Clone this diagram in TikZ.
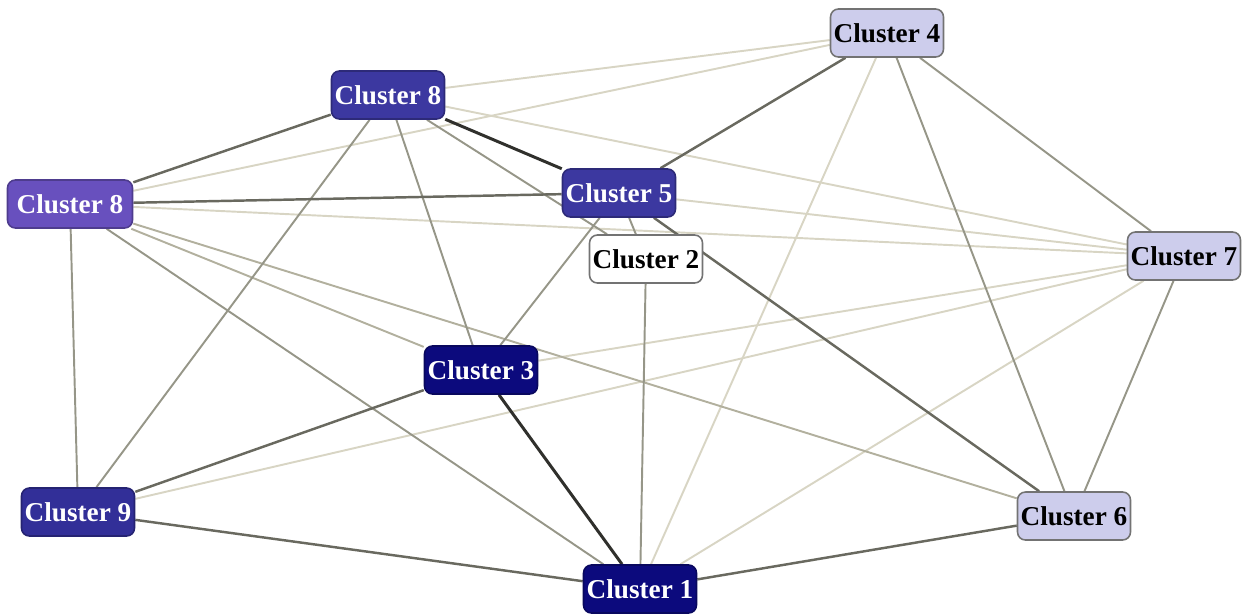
\documentclass[tikz,border=0pt]{standalone}
\usepackage{fontspec}
\setmainfont{Liberation Serif}
\usetikzlibrary{backgrounds}

\definecolor{navyc}{RGB}{12,10,125}
\definecolor{bluec}{RGB}{50,47,152}
\definecolor{indigoc}{RGB}{60,56,160}
\definecolor{violetc}{RGB}{104,80,190}
\definecolor{lavc}{RGB}{205,205,236}
\definecolor{heavyc}{RGB}{48,48,44}
\definecolor{strongc}{RGB}{105,105,95}
\definecolor{midc}{RGB}{150,150,136}
\definecolor{softc}{RGB}{178,176,158}
\definecolor{faintc}{RGB}{216,213,196}

\begin{document}
\begin{tikzpicture}[x=0.02cm,y=-0.02cm,
  clu/.style={rounded corners=4.5pt, line width=0.9pt, minimum width=2.26cm,
    minimum height=0.96cm, inner sep=1pt, font=\fontsize{15.5}{18}\selectfont\bfseries},
  dk/.style={clu, fill=#1, draw=#1!75!black, text=white},
  lt/.style={clu, fill=#1, draw=black!55, text=black},
  heavy/.style={line width=1.7pt, draw=heavyc},
  strong/.style={line width=1.4pt, draw=strongc},
  mid/.style={line width=1.1pt, draw=midc},
  soft/.style={line width=1.1pt, draw=softc},
  faint/.style={line width=1.1pt, draw=faintc}]
  \useasboundingbox (0,0) rectangle (1246,613);

  % clusters
  \node[lt=lavc] (c4) at (887,33) {Cluster 4};
  \node[dk=indigoc] (c8a) at (388,95) {Cluster 8};
  \node[dk=violetc, minimum width=2.5cm] (c8b) at (70,204) {Cluster 8};
  \node[dk=indigoc] (c5) at (619,193) {Cluster 5};
  \node[lt=white] (c2) at (646,259) {Cluster 2};
  \node[lt=lavc] (c7) at (1184,256) {Cluster 7};
  \node[dk=navyc] (c3) at (481,370) {Cluster 3};
  \node[dk=bluec] (c9) at (78,512) {Cluster 9};
  \node[lt=lavc] (c6) at (1074,516) {Cluster 6};
  \node[dk=navyc] (c1) at (640,589) {Cluster 1};

  % links
  \begin{scope}[on background layer]
    \foreach \a/\b in {c8b/c7,c8b/c4,c8a/c4,c8a/c7,c5/c7,c3/c7,c9/c7,c4/c1,c7/c1}
      \draw[faint] (\a) -- (\b);
    \foreach \a/\b in {c8b/c3,c8b/c6}
      \draw[soft] (\a) -- (\b);
    \foreach \a/\b in {c8a/c9,c8a/c3,c8a/c2,c8b/c9,c8b/c1,c5/c3,c2/c1,c4/c7,c4/c6,c7/c6,c5/c2}
      \draw[mid] (\a) -- (\b);
    \foreach \a/\b in {c8a/c8b,c4/c5,c5/c6,c9/c3,c9/c1,c8b/c5,c6/c1}
      \draw[strong] (\a) -- (\b);
    \draw[heavy] (c8a) -- (c5);
    \draw[heavy] (c3) -- (c1);
  \end{scope}
\end{tikzpicture}
\end{document}
